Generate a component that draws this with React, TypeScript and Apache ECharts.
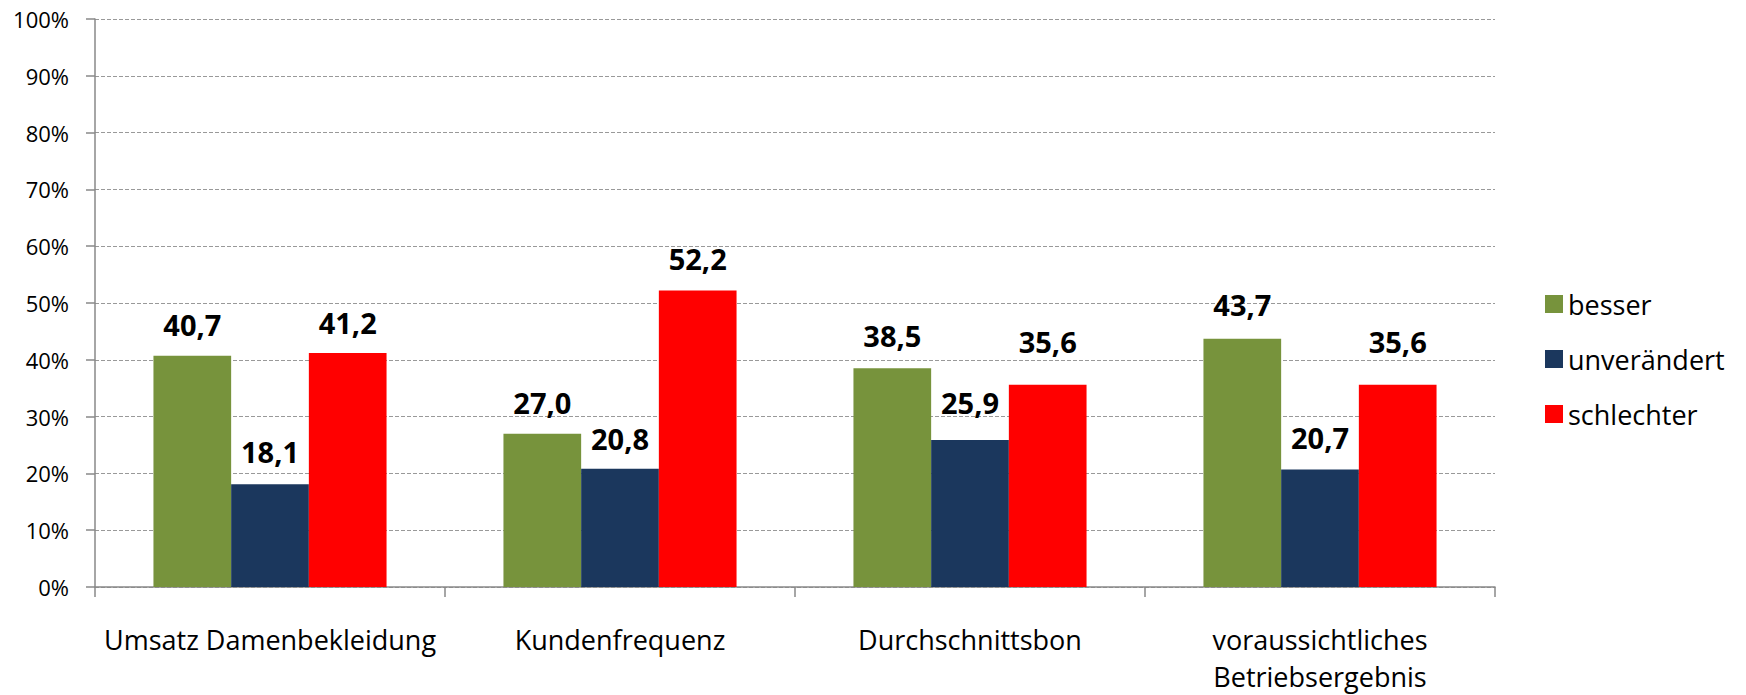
import React, { useEffect, useRef } from "react";
import * as echarts from "echarts";

const categories = [
  "Umsatz Damenbekleidung",
  "Kundenfrequenz",
  "Durchschnittsbon",
  "voraussichtliches\nBetriebsergebnis",
];
const besser = [40.7, 27.0, 38.5, 43.7];
const unveraendert = [18.1, 20.8, 25.9, 20.7];
const schlechter = [41.2, 52.2, 35.6, 35.6];
const seriesNames = ["besser", "unverändert", "schlechter"];
const colors = ["#77933C", "#1B375D", "#FF0000"];
// label distance above each bar (px), styling only
const labelGapBesser = [17, 17, 18, 20];
const labelGapUnv = [18, 16, 23, 17];
const labelGapSchl = [16, 18, 29, 29];

const FONT = "Open Sans";

export default function App() {
  const ref = useRef<HTMLDivElement>(null);
  useEffect(() => {
    if (!ref.current) return;
    document.body.style.margin = "0";
    document.body.style.overflow = "hidden";
    const chart = echarts.init(ref.current, null, { renderer: "svg" });
    const data = [besser, unveraendert, schlechter];
    const gaps = [labelGapBesser, labelGapUnv, labelGapSchl];
    chart.setOption({
      animation: false,
      textStyle: { fontFamily: FONT },
      grid: { left: 95, right: 251, top: 19, bottom: 106 },
      legend: {
        orient: "vertical",
        left: 1540,
        top: 284,
        itemWidth: 18,
        itemHeight: 18,
        itemGap: 25,
        icon: "rect",
        textStyle: { fontSize: 27, lineHeight: 30, color: "#000", fontFamily: FONT },
        data: seriesNames,
      },
      xAxis: {
        type: "category",
        data: categories,
        axisLine: { lineStyle: { color: "#888", width: 1.5 } },
        axisTick: { show: true, length: 10, lineStyle: { color: "#888", width: 1.5 } },
        axisLabel: {
          fontSize: 27,
          color: "#000",
          margin: 34,
          lineHeight: 37,
          interval: 0,
        },
      },
      yAxis: {
        type: "value",
        min: 0,
        max: 100,
        interval: 10,
        axisLine: { show: true, lineStyle: { color: "#888", width: 1.5 } },
        axisTick: { show: true, length: 9, lineStyle: { color: "#888", width: 1.5 } },
        axisLabel: { formatter: "{value}%", fontSize: 22, color: "#000", margin: 26 },
        splitLine: { lineStyle: { color: "#999", type: [4, 2], width: 1 } },
      },
      series: seriesNames.map((name, i) => ({
        name,
        type: "bar",
        data: data[i].map((v, j) => ({ value: v, label: { distance: gaps[i][j] } })),
        itemStyle: { color: colors[i] },
        barGap: "0%",
        barCategoryGap: "33.4%",
        label: {
          show: true,
          position: "top",
          fontSize: 29,
          fontWeight: "bold",
          color: "#000",
          formatter: (p: any) => p.value.toFixed(1).replace(".", ","),
        },
      })),
    });
    return () => chart.dispose();
  }, []);
  return (
    <div
      ref={ref}
      style={{ position: "absolute", left: 0, top: 0, width: 1746, height: 695 }}
    />
  );
}
